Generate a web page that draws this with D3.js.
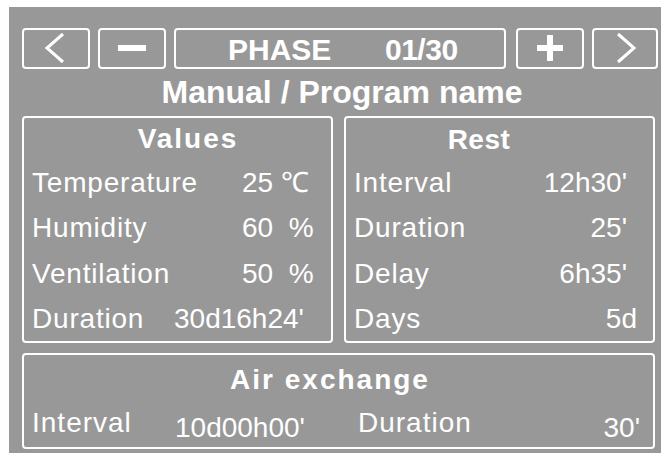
<!DOCTYPE html>
<html>
<head>
<meta charset="utf-8">
<script src="https://cdn.jsdelivr.net/npm/d3@7"></script>
<style>
  body { margin: 0; background: #fff; }
  svg text { font-family: "Liberation Sans", Arial, sans-serif; fill: #fff; }
</style>
</head>
<body>
<svg id="panel" width="661" height="453"></svg>
<script>
// ---------------- data ----------------
var phaseLabel = "PHASE",
  phaseValue = "01/30";
var title = "Manual / Program name";

var valueLabels = ["Temperature", "Humidity", "Ventilation", "Duration"];
var valueValues = ["25 \u2103", "60  %", "50  %", "30d16h24'"];

var restLabels = ["Interval", "Duration", "Delay", "Days"];
var restValues = ["12h30'", "25'", "6h35'", "5d"];

var airLabels = ["Interval", "Duration"];
var airValues = ["10d00h00'", "30'"];

// button slots along the top bar
var buttons = ["prev", "minus", "phase", "plus", "next"];
var buttonX = [23, 99, 175, 517, 593],
  buttonW = [66, 66, 330, 66, 64];

var svg = d3.select("#panel");

svg.append("rect")
  .attr("x", 9).attr("y", 7)
  .attr("width", 652).attr("height", 446)
  .style("fill", "#989898");

function box(x, y, w, h) {
  svg.append("rect")
    .attr("x", x).attr("y", y)
    .attr("width", w).attr("height", h)
    .attr("rx", 3).attr("ry", 3)
    .style("fill", "none")
    .style("stroke", "#fff")
    .style("stroke-width", 2);
}

function label(x, y, s, spacing) {
  return svg.append("text").attr("x", x).attr("y", y)
    .style("font-size", "28px")
    .style("letter-spacing", (spacing || 0) + "px")
    .style("white-space", "pre")
    .text(s);
}

function heading(x, y, s, size, spacing) {
  return svg.append("text").attr("x", x).attr("y", y)
    .attr("text-anchor", "middle")
    .style("font-size", size + "px").style("font-weight", "bold")
    .style("letter-spacing", (spacing || 0) + "px")
    .text(s);
}

//==================== top buttons ====================
for (var i = 0; i < buttons.length; i++) {
  box(buttonX[i], 29, buttonW[i], 39);
}

var line = d3.line();
// "<" and ">"
svg.append("path")
  .attr("d", line([[63, 34], [47, 48], [63, 62]]))
  .style("fill", "none").style("stroke", "#fff").style("stroke-width", 3);
svg.append("path")
  .attr("d", line([[618, 34], [634, 48], [618, 62]]))
  .style("fill", "none").style("stroke", "#fff").style("stroke-width", 3);
// "-"
svg.append("rect").attr("x", 118).attr("y", 45).attr("width", 28).attr("height", 6).style("fill", "#fff");
// "+"
svg.append("rect").attr("x", 537).attr("y", 45).attr("width", 26).attr("height", 6).style("fill", "#fff");
svg.append("rect").attr("x", 547).attr("y", 35).attr("width", 6).attr("height", 26).style("fill", "#fff");

svg.append("text").attr("x", 228).attr("y", 60)
  .style("font-size", "30px").style("font-weight", "bold")
  .text(phaseLabel);
svg.append("text").attr("x", 385).attr("y", 60)
  .style("font-size", "30px").style("font-weight", "bold")
  .style("letter-spacing", "-0.5px")
  .text(phaseValue);

heading(342, 103, title, 32, 0);

//==================== values / rest ====================
box(23, 117, 309, 225);
box(345, 117, 309, 225);

heading(188, 148, "Values", 28, 2);
heading(479, 149, "Rest", 28, 0.5);

var rowY = d3.scalePoint().domain(d3.range(4)).range([192, 328]);
var valueX = [242, 242, 242, 174];
var restX = [627, 627, 627, 637];

for (var i = 0; i < valueLabels.length; i++) {
  label(32, rowY(i), valueLabels[i], 0.8);
  label(valueX[i], rowY(i), valueValues[i], 0);
}
for (var i = 0; i < restLabels.length; i++) {
  label(354, rowY(i), restLabels[i], 0.8);
  label(restX[i], rowY(i), restValues[i], 0).attr("text-anchor", "end");
}

//==================== air exchange ====================
box(23, 354, 631, 94);
heading(330, 389, "Air exchange", 28, 2);

var airLabelX = [32, 358];
for (var i = 0; i < airLabels.length; i++) {
  label(airLabelX[i], 432, airLabels[i], 1);
}
label(175, 437, airValues[0], 0);
label(640, 437, airValues[1], 0).attr("text-anchor", "end");
</script>
</body>
</html>
